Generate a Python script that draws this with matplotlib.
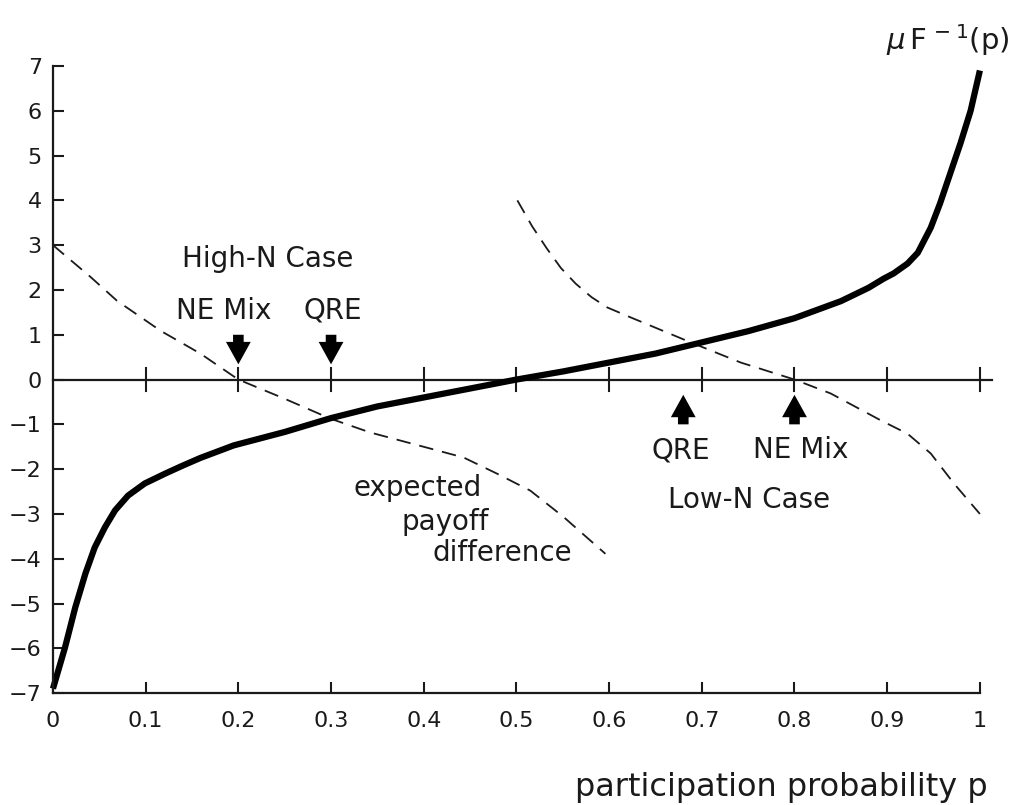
import matplotlib
matplotlib.use("Agg")
import matplotlib.pyplot as plt
from matplotlib.patches import FancyArrowPatch

# Scaled inverse error distribution, mu * F^-1(p)
p_inv = [0.0, 0.013, 0.024, 0.035, 0.045, 0.056, 0.067, 0.081, 0.099,
         0.121, 0.139, 0.159, 0.195, 0.25, 0.30, 0.35, 0.40, 0.45, 0.50,
         0.55, 0.60, 0.65, 0.70, 0.75, 0.80, 0.85, 0.88, 0.896, 0.907,
         0.922, 0.933, 0.947, 0.957, 0.968, 0.979, 0.99, 1.0]
mu_inv = [-6.9, -5.98, -5.09, -4.33, -3.75, -3.3, -2.92, -2.59, -2.32,
          -2.1, -1.93, -1.75, -1.47, -1.17, -0.86, -0.6, -0.4, -0.2, 0.0,
          0.18, 0.38, 0.58, 0.83, 1.08, 1.37, 1.75, 2.05, 2.25, 2.37,
          2.59, 2.83, 3.39, 3.93, 4.6, 5.27, 6.0, 6.9]

# Expected payoff difference, high-N case
p_high = [0.0, 0.04, 0.069, 0.116, 0.159, 0.20, 0.249, 0.299, 0.342,
          0.407, 0.443, 0.479, 0.515, 0.551, 0.596]
pay_high = [3.0, 2.3, 1.76, 1.09, 0.58, 0.0, -0.42, -0.87, -1.18,
            -1.54, -1.74, -2.1, -2.48, -3.07, -3.89]

# Expected payoff difference, low-N case
p_low = [0.501, 0.517, 0.533, 0.548, 0.564, 0.581, 0.598, 0.623, 0.688,
         0.742, 0.80, 0.839, 0.893, 0.922, 0.947, 0.972, 1.0]
pay_low = [4.0, 3.42, 2.92, 2.49, 2.14, 1.84, 1.61, 1.39, 0.83,
           0.38, 0.0, -0.31, -0.91, -1.21, -1.65, -2.32, -3.0]

# Equilibrium markers
high_ne, high_qre = 0.2, 0.3
low_qre, low_ne = 0.68, 0.8

x_ticks = [0.0, 0.1, 0.2, 0.3, 0.4, 0.5, 0.6, 0.7, 0.8, 0.9, 1.0]
x_labels = ["0", "0.1", "0.2", "0.3", "0.4", "0.5", "0.6", "0.7", "0.8", "0.9", "1"]
y_ticks = list(range(-7, 8))
y_labels = [str(v).replace("-", "\u2212") for v in y_ticks]

plt.rcParams["font.family"] = ["DejaVu Sans"]
plt.rcParams["mathtext.fontset"] = "dejavusans"
ink = "#1a1a1a"

fig = plt.figure(figsize=(10.13, 8.05), dpi=100)
ax = fig.add_axes([0.0523, 0.139, 0.915, 0.779])
ax.set_xlim(0, 1)
ax.set_ylim(-7, 7)

for side in ("top", "right"):
    ax.spines[side].set_visible(False)
for side in ("left", "bottom"):
    ax.spines[side].set_linewidth(1.6)
    ax.spines[side].set_color(ink)

ax.set_xticks(x_ticks)
ax.set_xticklabels(x_labels)
ax.set_yticks(y_ticks)
ax.set_yticklabels(y_labels)
ax.tick_params(axis="both", direction="in", length=8, width=1.5,
               colors=ink, labelsize=16)
ax.tick_params(axis="x", pad=13)
ax.tick_params(axis="y", pad=8)

# horizontal zero line with crossing ticks
ax.plot([0, 1.013], [0, 0], color=ink, lw=1.6, clip_on=False)
for xt in x_ticks[1:]:
    ax.plot([xt, xt], [-0.26, 0.26], color=ink, lw=1.5, clip_on=False)

# curves
ax.plot(p_high, pay_high, color=ink, lw=1.3, dashes=(8, 5), clip_on=False)
ax.plot(p_low, pay_low, color=ink, lw=1.3, dashes=(8, 5), clip_on=False)
ax.plot(p_inv, mu_inv, color="black", lw=4.5, solid_capstyle="butt",
        solid_joinstyle="round", clip_on=False)

# equilibrium arrows
def arrow(x, y_from, y_to):
    a = FancyArrowPatch((x, y_from), (x, y_to),
                        arrowstyle="simple,head_length=0.95,head_width=1.05,tail_width=0.45",
                        mutation_scale=17, color="black", lw=0,
                        shrinkA=0, shrinkB=0)
    ax.add_patch(a)

for xm in (high_ne, high_qre):
    arrow(xm, 1.0, 0.34)
for xm in (low_qre, low_ne):
    arrow(xm, -1.0, -0.34)

fs = 20
ax.text(0.232, 2.7, "High-N Case", ha="center", va="center", fontsize=fs, color=ink)
ax.text(0.184, 1.54, "NE Mix", ha="center", va="center", fontsize=fs, color=ink)
ax.text(0.302, 1.54, "QRE", ha="center", va="center", fontsize=fs, color=ink)
ax.text(0.677, -1.58, "QRE", ha="center", va="center", fontsize=fs, color=ink)
ax.text(0.807, -1.58, "NE Mix", ha="center", va="center", fontsize=fs, color=ink)
ax.text(0.751, -2.7, "Low-N Case", ha="center", va="center", fontsize=fs, color=ink)
ax.text(0.393, -2.41, "expected", ha="center", va="center", fontsize=fs, color=ink)
ax.text(0.423, -3.19, "payoff", ha="center", va="center", fontsize=fs, color=ink)
ax.text(0.485, -3.88, "difference", ha="center", va="center", fontsize=fs, color=ink)

ax.text(0.965, 7.57, r"$\mu\,$F$^{\,-1}$(p)", ha="center", va="center",
        fontsize=21, color=ink, clip_on=False)
ax.text(1.008, -9.1, "participation probability p", ha="right", va="center",
        fontsize=23, color=ink, clip_on=False)

fig.savefig("out.png", dpi=100, facecolor="white")
